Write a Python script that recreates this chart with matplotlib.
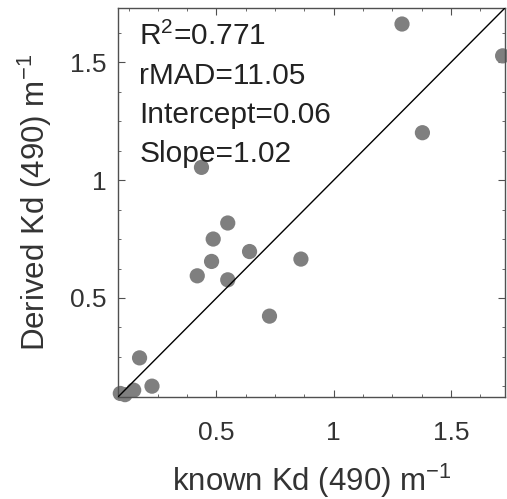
import matplotlib
matplotlib.use("Agg")
import matplotlib.pyplot as plt
from matplotlib.ticker import MultipleLocator

plt.rcParams['font.family'] = ['Liberation Sans', 'DejaVu Sans']
plt.rcParams['mathtext.fontset'] = 'custom'
plt.rcParams['mathtext.rm'] = 'Liberation Sans'
plt.rcParams['mathtext.default'] = 'regular'

known = [1.291, 1.72, 1.378, 0.436, 0.548, 0.486, 0.641, 0.479, 0.860, 0.418,
         0.548, 0.726, 0.172, 0.225, 0.147, 0.09, 0.11]
derived = [1.662, 1.527, 1.201, 1.054, 0.818, 0.750, 0.697, 0.655, 0.665, 0.594,
           0.577, 0.423, 0.246, 0.126, 0.109, 0.095, 0.09]
stats_lines = ["R$^2$=0.771", "rMAD=11.05", "Intercept=0.06", "Slope=1.02"]
xticks = [0.5, 1, 1.5]
yticks = [0.5, 1, 1.5]
lim = (0.08, 1.73)

fig = plt.figure(figsize=(5.07, 4.99), dpi=100)
ax = fig.add_axes([0.2327, 0.2044, 0.7633, 0.7796])
ax.scatter(known, derived, s=120, color='#7f7f7f', edgecolors='none', zorder=2, clip_on=False)
ax.axline((0, 0), slope=1, color='black', lw=1.0, zorder=3)
ax.set_xlim(*lim)
ax.set_ylim(*lim)
ax.set_xticks(xticks)
ax.set_yticks(yticks)
ax.set_xticklabels(['0.5', '1', '1.5'])
ax.set_yticklabels(['0.5', '1', '1.5'])
ax.xaxis.set_minor_locator(MultipleLocator(0.125))
ax.yaxis.set_minor_locator(MultipleLocator(0.125))
ax.tick_params(which='both', direction='in', top=True, right=True, colors='#505050',
               labelcolor='#333333', labelsize=19)
ax.tick_params(axis='x', which='major', pad=17)
ax.tick_params(axis='y', which='major', pad=8)
ax.tick_params(which='major', length=5, width=0.8)
ax.tick_params(which='minor', length=2.5, width=0.6)
for sp in ax.spines.values():
    sp.set_color('#505050')
    sp.set_linewidth(1.0)

ax.set_xlabel('known Kd (490) m$^{-1}$', fontsize=22.5, color='#333333', labelpad=12)
ax.set_ylabel('Derived Kd (490) m$^{-1}$', fontsize=22.5, color='#333333', labelpad=12)

ys = [0.905, 0.805, 0.704, 0.604]
for t, y in zip(stats_lines, ys):
    ax.text(0.055, y, t, transform=ax.transAxes, fontsize=21.5,
            va='baseline', ha='left', color='#222222')

fig.savefig('out.png', dpi=100)
